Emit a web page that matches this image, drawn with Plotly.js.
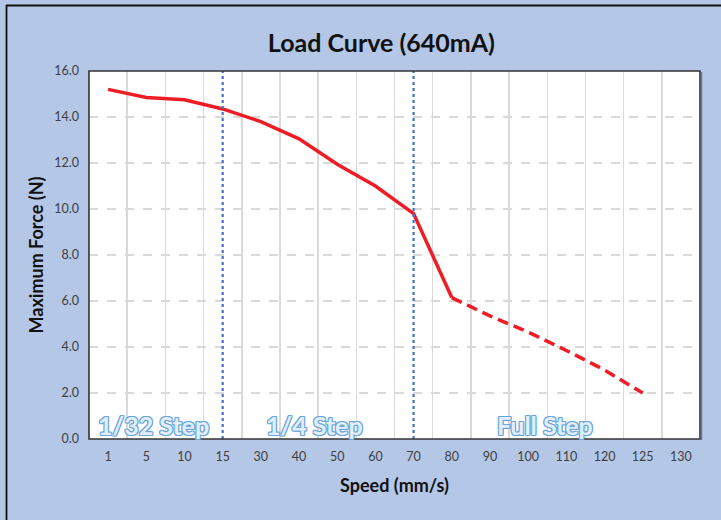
<!DOCTYPE html>
<html>
<head>
<meta charset="utf-8">
<script src="https://cdn.plot.ly/plotly-3.0.1.min.js"></script>
<style>
  html, body { margin: 0; padding: 0; background: #b4c7e7; }
  #chart { width: 721px; height: 520px; }
</style>
</head>
<body>
<div id="chart"></div>
<script>
// ---- data ----
const speedCategories = ['1','5','10','15','30','40','50','60','70','80','90','100','110','120','125','130'];
const forceSolid  = [15.2, 14.85, 14.75, 14.35, 13.8, 13.05, 11.95, 11.0, 9.8, 6.15, null, null, null, null, null, null];
const forceDashed = [null, null, null, null, null, null, null, null, null, 6.15, 5.35, 4.65, 3.85, 3.0, 2.0, null];
const stepBoundaries = ['15', '70'];
const stepRegionLabels = ['1/32 Step', '1/4 Step', 'Full Step'];
const stepRegionPositions = [1.2, 5.4, 11.45]; // category index where each region label is centred
const yTickValues = [0, 2, 4, 6, 8, 10, 12, 14, 16];

const FONT = 'Lato, "Open Sans", "Liberation Sans", sans-serif';
const red = '#ee1d25';

const traces = [
  {
    x: speedCategories, y: forceSolid, type: 'scatter', mode: 'lines',
    line: { color: red, width: 3.5 }, connectgaps: false, hoverinfo: 'x+y', showlegend: false
  },
  {
    x: speedCategories, y: forceDashed, type: 'scatter', mode: 'lines',
    line: { color: red, width: 3.5, dash: '11px,6px' }, connectgaps: false, hoverinfo: 'x+y', showlegend: false
  }
];

// paper coords helpers for frame (plot area: x 89..700, y 71..439)
const px = v => (v - 89) / 611;
const py = v => (439 - v) / 368;

const shapes = stepBoundaries.map(c => ({
  type: 'line', xref: 'x', yref: 'paper',
  x0: speedCategories.indexOf(c), x1: speedCategories.indexOf(c), y0: 0, y1: 1,
  line: { color: '#4472c4', width: 2.2, dash: 'dot' }, layer: 'above'
}));
// plot area border
shapes.push({ type: 'rect', xref: 'paper', yref: 'paper', x0: 0, x1: 1, y0: 0, y1: 1,
  line: { color: '#333333', width: 1.6 }, layer: 'above' });
// subtle shadow on right/bottom of plot
shapes.push({ type: 'line', xref: 'paper', yref: 'paper', x0: px(701.5), x1: px(701.5), y0: py(440), y1: py(72),
  line: { color: '#6b7a90', width: 1.5 }, layer: 'above' });
// outer frame (left and top)
shapes.push({ type: 'line', xref: 'paper', yref: 'paper', x0: px(6.5), x1: px(6.5), y0: py(5), y1: py(521),
  line: { color: '#111111', width: 1.8 }, layer: 'above' });
shapes.push({ type: 'line', xref: 'paper', yref: 'paper', x0: px(6), x1: px(722), y0: py(5.5), y1: py(5.5),
  line: { color: '#111111', width: 1.8 }, layer: 'above' });

const outline = '#6aa6dd';
const annotations = stepRegionLabels.map((t, i) => ({
  text: t, xref: 'x', yref: 'y', x: stepRegionPositions[i], y: 0.62,
  showarrow: false, xanchor: 'center', yanchor: 'middle',
  font: {
    family: FONT, size: 25, weight: 700, color: '#e3eefa',
    shadow: `1px 0 0 ${outline}, -1px 0 0 ${outline}, 0 1px 0 ${outline}, 0 -1px 0 ${outline}, 1px 1px 0 ${outline}, -1px -1px 0 ${outline}, 1px -1px 0 ${outline}, -1px 1px 0 ${outline}`
  }
}));

const layout = {
  width: 721, height: 520,
  paper_bgcolor: '#b4c7e7', plot_bgcolor: '#ffffff',
  margin: { l: 89, r: 21, t: 71, b: 81, pad: 0 },
  title: {
    text: 'Load Curve (640mA)', x: 0.529, xanchor: 'center', y: 0.917, yanchor: 'middle',
    font: { family: FONT, size: 25, weight: 700, color: '#111111' }
  },
  xaxis: {
    type: 'category', categoryorder: 'array', categoryarray: speedCategories,
    range: [-0.5, speedCategories.length - 0.5],
    tickson: 'boundaries', ticks: '', showgrid: true, gridcolor: '#d9d9d9', gridwidth: 1.5,
    zeroline: false, showline: false,
    tickfont: { family: FONT, size: 12.5, color: '#404040' }, ticklabelstandoff: 8,
    title: { text: 'Speed (mm/s)', font: { family: FONT, size: 18, weight: 700, color: '#111111' }, standoff: 16 },
    fixedrange: true
  },
  yaxis: {
    range: [0, 16], tickvals: yTickValues, tickformat: '.1f',
    ticks: '', showgrid: true, gridcolor: '#d9d9d9', gridwidth: 1.3, griddash: 'dash',
    zeroline: false, showline: false,
    tickfont: { family: FONT, size: 12.5, color: '#404040' }, ticklabelstandoff: 9,
    title: { text: 'Maximum Force (N)', font: { family: FONT, size: 18, weight: 700, color: '#111111' }, standoff: 5 },
    fixedrange: true
  },
  shapes: shapes,
  annotations: annotations,
  showlegend: false
};

Plotly.newPlot('chart', traces, layout, { displayModeBar: false, staticPlot: true });
</script>
</body>
</html>
